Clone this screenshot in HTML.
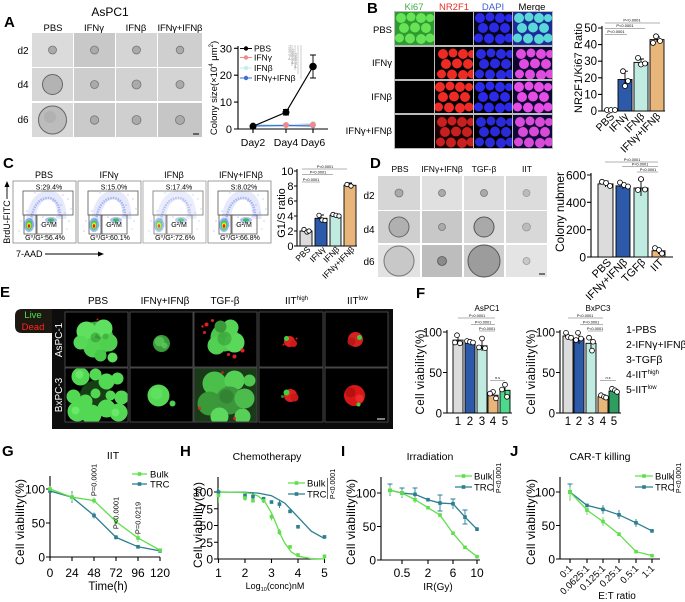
<!DOCTYPE html>
<html><head><meta charset="utf-8"><style>
html,body{margin:0;padding:0;background:#fff;}
svg{display:block}
text{font-family:"Liberation Sans",Arial,"DejaVu Sans",sans-serif;fill:#000}
.ax{stroke:#000;stroke-width:1.1;fill:none}
.sg{stroke:#999;stroke-width:0.7;fill:none}
.pt{fill:#fff;stroke:#000;stroke-width:0.8}
.bar{stroke:#000;stroke-width:0.9}
.eb{stroke:#000;stroke-width:0.9;fill:none}
.bk{stroke:#5fe04a;stroke-width:1.3;fill:none}
.tr{stroke:#2b7f91;stroke-width:1.3;fill:none}
.bkm{fill:#5fe04a}
.trm{fill:#2b7f91}
.ebk{stroke:#5fe04a;stroke-width:0.9;fill:none}
.etr{stroke:#2b7f91;stroke-width:0.9;fill:none}
</style></head><body>
<svg width="685" height="602" viewBox="0 0 685 602" xmlns="http://www.w3.org/2000/svg" xmlns:xlink="http://www.w3.org/1999/xlink">
<defs>
<g id="bl"><circle cx="6" cy="6" r="5"/><circle cx="16" cy="5" r="4.5"/><circle cx="26" cy="6" r="5"/><circle cx="35" cy="6" r="4"/><circle cx="9" cy="16" r="5"/><circle cx="20" cy="15.5" r="5"/><circle cx="31" cy="16" r="5"/><circle cx="4.5" cy="26" r="4.5"/><circle cx="15" cy="26.5" r="5"/><circle cx="26" cy="27" r="5"/><circle cx="35" cy="26" r="4.5"/></g>
<g id="flow">
<rect x="0" y="0" width="63" height="62" fill="#fff" stroke="#888" stroke-width="0.8"/>
<g fill="#8090f0" opacity="0.5">
<circle cx="40" cy="20" r="0.8"/><circle cx="48" cy="24" r="0.8"/><circle cx="55" cy="18" r="0.7"/><circle cx="58" cy="28" r="0.7"/><circle cx="52" cy="32" r="0.7"/><circle cx="45" cy="30" r="0.8"/><circle cx="30" cy="36" r="0.8"/><circle cx="8" cy="40" r="0.7"/><circle cx="6" cy="50" r="0.7"/><circle cx="56" cy="40" r="0.7"/><circle cx="60" cy="22" r="0.6"/><circle cx="14" cy="30" r="0.7"/><circle cx="22" cy="12" r="0.7"/><circle cx="34" cy="10" r="0.7"/><circle cx="50" cy="14" r="0.7"/><circle cx="28" cy="44" r="0.7"/><circle cx="44" cy="36" r="0.7"/><circle cx="54" cy="48" r="0.6"/>
</g>
<path d="M18,46 C17,28 24,14 36,14 C46,14 49,26 49,38" stroke="#9aa8f4" stroke-width="9" fill="none" opacity="0.25"/>
<path d="M18,44 C18,28 25,17 35,17 C44,17 47,27 47,36" stroke="#4a64e0" stroke-width="2.5" fill="none" opacity="0.4" stroke-dasharray="1.5 1"/>
<ellipse cx="38" cy="39" rx="6" ry="3" fill="#5a70e0" opacity="0.45"/>
<ellipse cx="38" cy="39" rx="3.2" ry="1.6" fill="#30c060"/>
<ellipse cx="16" cy="44" rx="5" ry="7" fill="#4a78e8" opacity="0.55"/>
<ellipse cx="16" cy="44" rx="3.3" ry="4.8" fill="#30d060"/>
<ellipse cx="16" cy="44.5" rx="2.2" ry="3.1" fill="#f0e020"/>
<ellipse cx="16" cy="45" rx="1.2" ry="1.7" fill="#e02020"/>
<rect x="10" y="10" width="50" height="24" fill="none" stroke="#555" stroke-width="0.8"/>
<rect x="11" y="34" width="12" height="19" fill="none" stroke="#555" stroke-width="0.8"/>
<rect x="24" y="34" width="25" height="19" fill="none" stroke="#555" stroke-width="0.8"/>
</g>
</defs>
<rect width="685" height="602" fill="#fff"/>

<!-- ================= PANEL A ================= -->
<text x="4" y="27" font-size="15" font-weight="bold">A</text>
<text x="110" y="16" font-size="12" text-anchor="middle">AsPC1</text>
<g font-size="9.5" text-anchor="middle">
<text x="53" y="31">PBS</text><text x="94" y="31">IFNγ</text><text x="136" y="31">IFNβ</text><text x="180" y="31" textLength="45">IFNγ+IFNβ</text>
</g>
<g font-size="10" text-anchor="middle"><text x="23" y="54">d2</text><text x="23" y="88">d4</text><text x="23" y="123">d6</text></g>
<g>
<rect x="32" y="33" width="41" height="34" fill="#dbdbdb"/><rect x="74" y="33" width="41" height="34" fill="#c8c8c8"/><rect x="116" y="33" width="41" height="34" fill="#d5d5d5"/><rect x="158" y="33" width="44" height="34" fill="#cfcfcf"/>
<rect x="32" y="68" width="41" height="33" fill="#d6d6d6"/><rect x="74" y="68" width="41" height="33" fill="#cdcdcd"/><rect x="116" y="68" width="41" height="33" fill="#d2d2d2"/><rect x="158" y="68" width="44" height="33" fill="#d4d4d4"/>
<rect x="32" y="103" width="41" height="34" fill="#d8d8d8"/><rect x="74" y="103" width="41" height="34" fill="#cacaca"/><rect x="116" y="103" width="41" height="34" fill="#cfcfcf"/><rect x="158" y="103" width="44" height="34" fill="#c6c6c6"/>
<g fill="#aaa" stroke="#777" stroke-width="0.8">
<circle cx="52.5" cy="50" r="4"/><circle cx="94.5" cy="50" r="4"/><circle cx="136.5" cy="50" r="4"/><circle cx="180" cy="50" r="3.8"/>
<circle cx="94.5" cy="84.5" r="4"/><circle cx="136.5" cy="84.5" r="4.5"/><circle cx="180" cy="84.5" r="4"/>
<circle cx="94.5" cy="120" r="4.2"/><circle cx="136.5" cy="120" r="4.5"/><circle cx="180" cy="120" r="4.5"/>
</g>
<circle cx="52.5" cy="84.5" r="10" fill="#b3b3b3" stroke="#666" stroke-width="1"/>
<circle cx="52.5" cy="120" r="14" fill="#bcbcbc" stroke="#666" stroke-width="1"/>
<circle cx="50" cy="117" r="6" fill="#aaa" opacity="0.6"/>
<line x1="193" y1="134" x2="199" y2="134" stroke="#000" stroke-width="1"/>
</g>
<!-- A line chart -->
<path class="ax" d="M238,46 V129 H328"/>
<path class="ax" d="M234,48.3H238M234,75.2H238M234,102.1H238M234,129H238M253,129V133M286,129V133M313,129V133"/>
<g font-size="11" text-anchor="end"><text x="232" y="52.3">30</text><text x="232" y="79.2">20</text><text x="232" y="106.1">10</text><text x="232" y="133">0</text></g>
<g font-size="10.5" text-anchor="middle"><text x="253" y="146">Day2</text><text x="286" y="146">Day4</text><text x="313" y="146">Day6</text></g>
<text transform="translate(217,88) rotate(-90)" font-size="9.5" text-anchor="middle">Colony size(×10<tspan font-size="6" dy="-4">4</tspan><tspan dy="4"> μm</tspan><tspan font-size="6" dy="-4">2</tspan><tspan dy="4">)</tspan></text>
<g stroke="#aaa" stroke-width="0.6"><line x1="292" y1="45" x2="292" y2="66"/><line x1="295" y1="45" x2="295" y2="70"/><line x1="298" y1="45" x2="298" y2="74"/><line x1="301" y1="45" x2="301" y2="79"/></g>
<g font-size="3.5"><text transform="translate(291,60) rotate(-90)" style="fill:#888">P&lt;0.0001</text><text transform="translate(294,64) rotate(-90)" style="fill:#888">P&lt;0.0001</text><text transform="translate(297,68) rotate(-90)" style="fill:#888">P&lt;0.0001</text></g>
<polyline points="253,125.5 286,125 313,124.5" stroke="#f08a8a" stroke-width="1.2" fill="none"/>
<polyline points="253,124.5 286,125 313,123.5" stroke="#bff0ee" stroke-width="1.2" fill="none"/>
<polyline points="253,126 286,125.5 313,126" stroke="#3a6fd8" stroke-width="1.2" fill="none"/>
<circle cx="253" cy="124.5" r="2.5" fill="#bff0ee"/><circle cx="313" cy="123.5" r="2.5" fill="#bff0ee"/>
<circle cx="253" cy="126" r="2.3" fill="#3a6fd8"/><circle cx="313" cy="126" r="2.3" fill="#3a6fd8"/>
<circle cx="286" cy="125" r="3" fill="#f08a8a"/><circle cx="313" cy="124.8" r="3" fill="#f08a8a"/>
<polyline points="253,126.3 286,112.3 313,66.5" stroke="#000" stroke-width="1.2" fill="none"/>
<path class="eb" d="M286,109.5V115M283,109.5H289M283,115H289M313,55V78M310,55H316M310,78H316"/>
<circle cx="253" cy="126.3" r="3.5" fill="#000"/><circle cx="286" cy="112.3" r="3.5" fill="#000"/><circle cx="313" cy="66.5" r="3.8" fill="#000"/>
<g font-size="8.5">
<line x1="240" y1="48.5" x2="252" y2="48.5" stroke="#000" stroke-width="1"/><circle cx="246" cy="48.5" r="2.2" fill="#000"/><text x="254" y="51.5">PBS</text>
<line x1="240" y1="57.5" x2="252" y2="57.5" stroke="#f08a8a" stroke-width="1"/><circle cx="246" cy="57.5" r="2.2" fill="#f08a8a"/><text x="254" y="60.5">IFNγ</text>
<line x1="240" y1="68" x2="252" y2="68" stroke="#bff0ee" stroke-width="1"/><circle cx="246" cy="68" r="2.2" fill="#bff0ee"/><text x="254" y="71">IFNβ</text>
<line x1="240" y1="78" x2="252" y2="78" stroke="#3a6fd8" stroke-width="1"/><circle cx="246" cy="78" r="2.2" fill="#3a6fd8"/><text x="254" y="81">IFNγ+IFNβ</text>
</g>

<!-- ================= PANEL B ================= -->
<text x="367" y="13" font-size="15" font-weight="bold">B</text>
<g font-size="9.5" text-anchor="middle">
<text x="414" y="10" style="fill:#3cb043">Ki67</text><text x="454" y="10" style="fill:#e8302a">NR2F1</text><text x="493" y="10" style="fill:#3f5fd0">DAPI</text><text x="532" y="10">Merge</text>
</g>
<g font-size="9.5" text-anchor="end">
<text x="392" y="33">PBS</text><text x="392" y="66">IFNγ</text><text x="392" y="100">IFNβ</text><text x="392" y="134">IFNγ+IFNβ</text>
</g>
<rect x="394" y="11" width="159" height="138" fill="#bbb"/>
<svg x="395" y="12" width="39" height="33"><rect width="39" height="33" fill="#2f9a2f"/><use xlink:href="#bl" fill="#66e356"/></svg>
<svg x="435" y="12" width="38" height="33"><rect width="38" height="33" fill="#000"/></svg>
<svg x="474" y="12" width="38" height="33"><rect width="38" height="33" fill="#06061e"/><use xlink:href="#bl" fill="#2a2ae6"/></svg>
<svg x="513" y="12" width="39" height="33"><rect width="39" height="33" fill="#1e2a9a"/><use xlink:href="#bl" fill="#5ad8d8"/></svg>
<svg x="395" y="47" width="39" height="32"><rect width="39" height="32" fill="#000"/></svg>
<svg x="435" y="47" width="38" height="32"><rect width="38" height="32" fill="#000"/><use xlink:href="#bl" x="2" y="1" fill="#ee2a24"/></svg>
<svg x="474" y="47" width="38" height="32"><rect width="38" height="32" fill="#000"/><use xlink:href="#bl" x="1" y="1" fill="#2a2ae0"/></svg>
<svg x="513" y="47" width="39" height="32"><rect width="39" height="32" fill="#0c0630"/><use xlink:href="#bl" x="2" y="1" fill="#e04ce0"/></svg>
<svg x="395" y="81" width="39" height="32"><rect width="39" height="32" fill="#000"/></svg>
<svg x="435" y="81" width="38" height="32"><rect width="38" height="32" fill="#000"/><use xlink:href="#bl" x="-1" y="0" fill="#f02a24"/></svg>
<svg x="474" y="81" width="38" height="32"><rect width="38" height="32" fill="#000"/><use xlink:href="#bl" x="0" y="0" fill="#2a2ae8"/></svg>
<svg x="513" y="81" width="39" height="32"><rect width="39" height="32" fill="#0c0630"/><use xlink:href="#bl" x="0" y="0" fill="#e64ce6"/></svg>
<svg x="395" y="115" width="39" height="33"><rect width="39" height="33" fill="#000"/></svg>
<svg x="435" y="115" width="38" height="33"><rect width="38" height="33" fill="#1a0000"/><use xlink:href="#bl" x="1" y="1" fill="#c82020"/></svg>
<svg x="474" y="115" width="38" height="33"><rect width="38" height="33" fill="#000"/><use xlink:href="#bl" x="1" y="1" fill="#2a2ad8"/></svg>
<svg x="513" y="115" width="39" height="33"><rect width="39" height="33" fill="#100838"/><use xlink:href="#bl" x="1" y="1" fill="#d84ad8"/></svg>
<!-- B bar chart -->
<path class="ax" d="M602,26 V111 H665"/>
<path class="ax" d="M598,28H602M598,44.6H602M598,61.2H602M598,77.8H602M598,94.4H602M598,111H602"/>
<g font-size="11.5" text-anchor="end"><text x="597" y="32">50</text><text x="597" y="48.6">40</text><text x="597" y="65.2">30</text><text x="597" y="81.8">20</text><text x="597" y="98.4">10</text><text x="597" y="115">0</text></g>
<text transform="translate(582,68) rotate(-90)" font-size="11" text-anchor="middle" textLength="90">NR2F1/Ki67 Ratio</text>
<rect class="bar" x="618" y="79.5" width="14" height="31.5" fill="#2c5aa8"/>
<rect class="bar" x="634" y="62.4" width="14" height="48.6" fill="#c0ebe0"/>
<rect class="bar" x="650" y="39.6" width="14" height="71.4" fill="#e8b57a"/>
<path class="eb" d="M625,71.2V87.8M622,71.2H628M641,59V66M638,59H644M657,37V42M654,37H660"/>
<g class="pt"><circle cx="607" cy="110" r="2.5"/><circle cx="611" cy="110" r="2.5"/><circle cx="615" cy="110" r="2.5"/>
<circle cx="623" cy="71.2" r="2.5"/><circle cx="625" cy="86" r="2.5"/><circle cx="628" cy="81" r="2.5"/>
<circle cx="638" cy="57.9" r="2.5"/><circle cx="641" cy="64.5" r="2.5"/><circle cx="645" cy="63.5" r="2.5"/>
<circle cx="656" cy="36.3" r="2.5"/><circle cx="653" cy="42.9" r="2.5"/><circle cx="660" cy="41" r="2.5"/></g>
<path class="sg" d="M605,23H660M605,28.5H645M605,34.5H627"/>
<g font-size="4" text-anchor="middle"><text x="632" y="21.5">P&lt;0.0001</text><text x="625" y="27">P&lt;0.0001</text><text x="616" y="33">P&lt;0.0001</text></g>
<g font-size="10.5" text-anchor="end">
<text transform="translate(615,117) rotate(-45)">PBS</text>
<text transform="translate(629,117) rotate(-45)">IFNγ</text>
<text transform="translate(645,117) rotate(-45)">IFNβ</text>
<text transform="translate(661,117) rotate(-45)">IFNγ+IFNβ</text>
</g>

<!-- ================= PANEL C ================= -->
<text x="3" y="168" font-size="15" font-weight="bold">C</text>
<g font-size="9" text-anchor="middle">
<text x="44" y="178">PBS</text><text x="109" y="178">IFNγ</text><text x="174" y="178">IFNβ</text><text x="241" y="178">IFNγ+IFNβ</text>
</g>
<g transform="translate(13,181)"><use xlink:href="#flow"/><g font-size="7" text-anchor="middle"><text x="36" y="8.5">S:29.4%</text><text x="36" y="46">G²/M</text><text x="32" y="59">G⁰/G¹:56.4%</text></g></g>
<g transform="translate(78,181)"><use xlink:href="#flow"/><g font-size="7" text-anchor="middle"><text x="36" y="8.5">S:15.0%</text><text x="36" y="46">G²/M</text><text x="32" y="59">G⁰/G¹:60.1%</text></g></g>
<g transform="translate(143,181)"><use xlink:href="#flow" opacity="0.8"/><g font-size="7" text-anchor="middle"><text x="36" y="8.5">S:17.4%</text><text x="36" y="46">G²/M</text><text x="32" y="59">G⁰/G¹:72.6%</text></g></g>
<g transform="translate(208,181)"><use xlink:href="#flow"/><g font-size="7" text-anchor="middle"><text x="36" y="8.5">S:8.02%</text><text x="36" y="46">G²/M</text><text x="32" y="59">G⁰/G¹:66.8%</text></g></g>
<text transform="translate(10,222) rotate(-90)" font-size="9" text-anchor="middle">BrdU-FITC</text>
<path d="M7,199V185" stroke="#000" stroke-width="0.9"/><path d="M4.5,187L7,181L9.5,187Z" fill="#000"/>
<text x="16" y="257" font-size="9">7-AAD</text>
<path d="M45,254H99" stroke="#000" stroke-width="0.9"/><path d="M98,251.5L104,254L98,256.5Z" fill="#000"/>
<!-- C bar chart -->
<path class="ax" d="M297,169 V246 H357"/>
<path class="ax" d="M294,171H297M294,186H297M294,201H297M294,216H297M294,231H297M294,246H297"/>
<g font-size="11" text-anchor="end"><text x="293.5" y="175">10</text><text x="293.5" y="190">8</text><text x="293.5" y="205">6</text><text x="293.5" y="220">4</text><text x="293.5" y="235">2</text><text x="293.5" y="250">0</text></g>
<text transform="translate(285,213) rotate(-90)" font-size="11" text-anchor="middle">G1/S ratio</text>
<rect class="bar" x="300" y="231" width="12" height="15" fill="#dcdcdc"/>
<rect class="bar" x="315" y="218.3" width="12" height="27.7" fill="#2c5aa8"/>
<rect class="bar" x="330" y="215.3" width="11" height="30.7" fill="#c0ebe0"/>
<rect class="bar" x="344" y="185.3" width="12" height="60.7" fill="#e8b57a"/>
<path class="eb" d="M321,215V221M318,215H324M349.5,183V188M347,183H352"/>
<g class="pt"><circle cx="304" cy="229.5" r="2.2"/><circle cx="307" cy="232" r="2.2"/><circle cx="309" cy="231" r="2.2"/>
<circle cx="319" cy="215.3" r="2.2"/><circle cx="322" cy="220" r="2.2"/><circle cx="325" cy="220.5" r="2.2"/>
<circle cx="333" cy="214.5" r="2.2"/><circle cx="336" cy="215.3" r="2.2"/><circle cx="339" cy="216" r="2.2"/>
<circle cx="347" cy="184.5" r="2.2"/><circle cx="351" cy="186" r="2.2"/></g>
<path class="sg" d="M302,169H347M302,174.5H333M302,182H320"/>
<g font-size="3.8" text-anchor="middle"><text x="325" y="168">P&lt;0.0001</text><text x="318" y="173.5">P&lt;0.0001</text><text x="311" y="181">P&lt;0.0001</text></g>
<g font-size="8.5" text-anchor="end">
<text transform="translate(311,250) rotate(-45)">PBS</text>
<text transform="translate(326,250) rotate(-45)">IFNγ</text>
<text transform="translate(340,250) rotate(-45)">IFNβ</text>
<text transform="translate(355,250) rotate(-45)">IFNγ+IFNβ</text>
</g>

<!-- ================= PANEL D ================= -->
<text x="370" y="168" font-size="15" font-weight="bold">D</text>
<g font-size="8.5" text-anchor="middle">
<text x="400" y="172">PBS</text><text x="442" y="172">IFNγ+IFNβ</text><text x="484" y="172">TGF-β</text><text x="527" y="172">IIT</text>
</g>
<g font-size="10" text-anchor="middle"><text x="369" y="199">d2</text><text x="369" y="233">d4</text><text x="369" y="265">d6</text></g>
<rect x="378" y="176" width="42" height="34" fill="#d6d6d6"/><rect x="422" y="176" width="40" height="34" fill="#e0e0e0"/><rect x="464" y="176" width="40" height="34" fill="#dedede"/><rect x="506" y="176" width="41" height="34" fill="#dcdcdc"/>
<rect x="378" y="211" width="42" height="32" fill="#cfcfcf"/><rect x="422" y="211" width="40" height="32" fill="#c8c8c8"/><rect x="464" y="211" width="40" height="32" fill="#d8d8d8"/><rect x="506" y="211" width="41" height="32" fill="#d8d8d8"/>
<rect x="378" y="245" width="42" height="32" fill="#e2e2e2"/><rect x="422" y="245" width="40" height="32" fill="#bdbdbd"/><rect x="464" y="245" width="40" height="32" fill="#cfcfcf"/><rect x="506" y="245" width="41" height="32" fill="#e4e4e4"/>
<g fill="#aaa" stroke="#777" stroke-width="0.8">
<circle cx="399" cy="193" r="4"/><circle cx="442" cy="193" r="3.5"/><circle cx="484" cy="193" r="3.5"/><circle cx="526.5" cy="193" r="3.5" fill="#bbb" stroke="#999"/>
<circle cx="442" cy="227" r="3.5"/><circle cx="526.5" cy="227" r="4" fill="#bbb" stroke="#999"/>
<circle cx="442" cy="261" r="4.5" fill="#8a8a8a" stroke="#555"/><circle cx="526.5" cy="261" r="3.5" fill="#c8c8c8" stroke="#999"/>
</g>
<circle cx="399" cy="227" r="10" fill="#b0b0b0" stroke="#666" stroke-width="1"/>
<circle cx="484" cy="227" r="10" fill="#a9a9a9" stroke="#555" stroke-width="1"/>
<circle cx="399" cy="261" r="15" fill="#c8c8c8" stroke="#777" stroke-width="1"/>
<circle cx="484" cy="261" r="16" fill="#9c9c9c" stroke="#555" stroke-width="1"/>
<line x1="539" y1="274" x2="545" y2="274" stroke="#000" stroke-width="1"/>
<!-- D bar chart -->
<path class="ax" d="M591,173 V257 H673"/>
<path class="ax" d="M587,175H591M587,202.3H591M587,229.7H591M587,257H591"/>
<g font-size="12" text-anchor="end"><text x="586" y="179.5">600</text><text x="586" y="206.8">400</text><text x="586" y="234.2">200</text><text x="586" y="261.5">0</text></g>
<text transform="translate(564,212) rotate(-90)" font-size="12" text-anchor="middle" textLength="80">Colony nubmer</text>
<rect class="bar" x="598" y="183.9" width="15" height="73.1" fill="#dcdcdc"/>
<rect class="bar" x="616" y="185.9" width="14" height="71.1" fill="#2c5aa8"/>
<rect class="bar" x="634" y="188" width="14" height="69" fill="#c0ebe0"/>
<rect class="bar" x="652" y="250.8" width="13" height="6.2" fill="#e8b57a"/>
<path class="eb" d="M605.5,181V187M602.5,181H608.5M623,183V189M620,183H626M641,180V196M638,180H644M658.5,248V254"/>
<g class="pt"><circle cx="602" cy="181.8" r="2.5"/><circle cx="606" cy="183" r="2.5"/><circle cx="610" cy="186" r="2.5"/>
<circle cx="620" cy="182.5" r="2.5"/><circle cx="624" cy="185" r="2.5"/><circle cx="628" cy="186.5" r="2.5"/>
<circle cx="641" cy="179.1" r="2.5"/><circle cx="638" cy="190" r="2.5"/><circle cx="645" cy="189.5" r="2.5"/>
<circle cx="655" cy="248.1" r="2.5"/><circle cx="659" cy="250" r="2.5"/><circle cx="662" cy="253.5" r="2.5"/></g>
<path class="sg" d="M605,162H658M622,166.5H658M637,172H658"/>
<g font-size="3.8" text-anchor="middle"><text x="632" y="161">P&lt;0.0001</text><text x="640" y="165.5">P&lt;0.0001</text><text x="648" y="171">P&lt;0.0001</text></g>
<g font-size="11" text-anchor="end">
<text transform="translate(612,263) rotate(-45)">PBS</text>
<text transform="translate(628,263) rotate(-45)">IFNγ+IFNβ</text>
<text transform="translate(646,263) rotate(-45)">TGFβ</text>
<text transform="translate(664,263) rotate(-45)">IIT</text>
</g>

<!-- ================= PANEL E ================= -->
<text x="0" y="297" font-size="15" font-weight="bold">E</text>
<g font-size="10" text-anchor="middle">
<text x="98" y="304">PBS</text><text x="165" y="304">IFNγ+IFNβ</text><text x="225" y="304">TGF-β</text>
</g>
<text x="285" y="304" font-size="10">IIT<tspan font-size="6" dy="-4">high</tspan></text>
<text x="347" y="304" font-size="10">IIT<tspan font-size="6" dy="-4">low</tspan></text>
<rect x="52" y="309" width="341" height="120" fill="#0d0d0d"/>
<path d="M52,309 H22 Q15,309 15,316 V326 Q15,333 22,333 H52 Z" fill="#1e1812"/>
<text x="33" y="318" font-size="9.5" text-anchor="middle" style="fill:#4ce04c">Live</text>
<text x="33" y="330" font-size="9.5" text-anchor="middle" style="fill:#ff2a1a">Dead</text>
<text transform="translate(62,340) rotate(-90)" font-size="10" text-anchor="middle" style="fill:#fff">AsPC-1</text>
<text transform="translate(62,395) rotate(-90)" font-size="10" text-anchor="middle" style="fill:#fff">BxPC-3</text>
<g stroke="#555" stroke-width="0.8" fill="#000">
<rect x="65" y="312" width="63" height="55"/><rect x="130" y="312" width="63" height="55"/><rect x="194" y="312" width="63" height="55"/><rect x="259" y="312" width="64" height="55"/><rect x="325" y="312" width="63" height="55"/>
<rect x="65" y="368" width="63" height="54"/><rect x="130" y="368" width="63" height="54"/><rect x="194" y="368" width="63" height="54"/><rect x="259" y="368" width="64" height="54"/><rect x="325" y="368" width="63" height="54"/>
</g>
<svg x="65.5" y="312.5" width="62" height="54">
<circle cx="31" cy="26" r="17" fill="#3aae3a"/><circle cx="21" cy="19" r="10" fill="#5fe05f"/><circle cx="38" cy="16" r="9" fill="#60e060"/><circle cx="28" cy="35" r="10" fill="#52d452"/><circle cx="43" cy="30" r="9" fill="#4fd04f"/><circle cx="15" cy="30" r="7" fill="#58d858"/><circle cx="47" cy="45" r="5" fill="#5ee05e"/><circle cx="35" cy="43" r="6" fill="#48c848"/><circle cx="30" cy="25" r="5" fill="#2e8a2e" opacity="0.5"/><circle cx="40" cy="24" r="3" fill="#2e8a2e" opacity="0.4"/><circle cx="32" cy="7" r="1" fill="#e02020"/>
</svg>
<svg x="130.5" y="312.5" width="62" height="54">
<circle cx="31" cy="31" r="8.5" fill="#3a9a3a"/><circle cx="29" cy="29" r="5" fill="#58c858" opacity="0.8"/><circle cx="34" cy="33" r="3" fill="#60d060" opacity="0.7"/>
</svg>
<svg x="194.5" y="312.5" width="62" height="54">
<circle cx="30" cy="25" r="14" fill="#4cc84c"/><circle cx="22" cy="33" r="9" fill="#52d052"/><circle cx="40" cy="30" r="10" fill="#5ad85a"/><circle cx="36" cy="15" r="8" fill="#56d456"/><circle cx="26" cy="14" r="6" fill="#3a9a3a"/><circle cx="30" cy="26" r="7" fill="#2f8f2f" opacity="0.5"/>
<g fill="#e02020"><circle cx="12" cy="12" r="2"/><circle cx="18" cy="8" r="1.5"/><circle cx="48" cy="38" r="2"/><circle cx="34" cy="42" r="1.5"/><circle cx="40" cy="44" r="2"/><circle cx="10" cy="20" r="1.5"/><circle cx="8" cy="14" r="1.2"/></g>
</svg>
<svg x="259.5" y="312.5" width="63" height="54">
<circle cx="30" cy="29" r="5.5" fill="#e02020"/><circle cx="34" cy="31" r="3.5" fill="#d01818"/><circle cx="27" cy="26" r="2.5" fill="#40d040"/><circle cx="37" cy="26" r="1" fill="#e02020"/><circle cx="24" cy="32" r="1" fill="#e02020"/>
</svg>
<svg x="325.5" y="312.5" width="62" height="54">
<circle cx="30" cy="27" r="7.5" fill="#d82020"/><circle cx="26" cy="29" r="4" fill="#b81818"/><circle cx="34" cy="25" r="2.5" fill="#40d040"/>
</svg>
<svg x="65.5" y="368.5" width="62" height="53">
<circle cx="30" cy="28" r="16" fill="#1f5a1f" opacity="0.7"/>
<g fill="#52d852"><circle cx="15" cy="8" r="9"/><circle cx="30" cy="6" r="6"/><circle cx="41" cy="13" r="8"/><circle cx="52" cy="10" r="6"/><circle cx="8" cy="28" r="7"/><circle cx="20" cy="33" r="7"/><circle cx="12" cy="43" r="10"/><circle cx="26" cy="46" r="10"/><circle cx="41" cy="40" r="9"/><circle cx="53" cy="44" r="9"/><circle cx="56" cy="29" r="7"/><circle cx="45" cy="27" r="5"/><circle cx="30" cy="25" r="5"/></g>
<g fill="#6ae86a"><circle cx="14" cy="6" r="4"/><circle cx="10" cy="42" r="4"/><circle cx="50" cy="44" r="4"/></g>
</svg>
<svg x="130.5" y="368.5" width="62" height="53">
<circle cx="28" cy="27" r="11" fill="#56d856"/><circle cx="42" cy="35" r="3" fill="#50d050"/><circle cx="26" cy="25" r="6" fill="#60e060"/>
</svg>
<svg x="194.5" y="368.5" width="62" height="53">
<rect width="62" height="53" fill="#1a3a1a"/>
<circle cx="20" cy="15" r="12" fill="#4ac04a"/><circle cx="40" cy="12" r="10" fill="#55d055"/><circle cx="15" cy="35" r="12" fill="#3a9a3a"/><circle cx="35" cy="32" r="14" fill="#3c963c"/><circle cx="50" cy="30" r="10" fill="#4cbc4c"/><circle cx="25" cy="48" r="9" fill="#5cd85c"/><circle cx="48" cy="48" r="8" fill="#58d058"/><circle cx="55" cy="12" r="6" fill="#50c850"/><circle cx="32" cy="28" r="7" fill="#2e7a2e" opacity="0.7"/>
<g fill="#e02020"><circle cx="5" cy="40" r="1.5"/><circle cx="40" cy="50" r="1.5"/><circle cx="28" cy="4" r="1.2"/></g>
</svg>
<svg x="259.5" y="368.5" width="63" height="53">
<circle cx="31" cy="27" r="6.5" fill="#e02020"/><circle cx="35" cy="29" r="4" fill="#c81818"/><circle cx="27" cy="24" r="3" fill="#40d040"/><circle cx="23" cy="28" r="1.5" fill="#2a8a2a"/>
</svg>
<svg x="325.5" y="368.5" width="62" height="53">
<circle cx="29" cy="27" r="10.5" fill="#d81818"/><circle cx="25" cy="24" r="5" fill="#b81010"/><circle cx="34" cy="30" r="4" fill="#ee2a2a"/><circle cx="33" cy="36" r="2" fill="#40d040"/>
</svg>
<line x1="377" y1="419" x2="385" y2="419" stroke="#fff" stroke-width="1"/>

<!-- ================= PANEL F ================= -->
<text x="416" y="298" font-size="15" font-weight="bold">F</text>
<text x="487" y="311" font-size="8" text-anchor="middle">AsPC1</text>
<text x="598" y="311" font-size="8" text-anchor="middle">BxPC3</text>
<path class="ax" d="M447,330 V413 H512"/>
<path class="ax" d="M443,332H447M443,372.5H447M443,413H447"/>
<g font-size="11.5" text-anchor="end"><text x="442" y="336.5">100</text><text x="442" y="377">50</text><text x="442" y="417.5">0</text></g>
<text transform="translate(424,372) rotate(-90)" font-size="11.5" text-anchor="middle" textLength="85">Cell viability(%)</text>
<rect class="bar" x="453" y="340.1" width="10" height="72.9" fill="#dcdcdc"/>
<rect class="bar" x="465" y="341.7" width="10" height="71.3" fill="#2c5aa8"/>
<rect class="bar" x="477" y="345.8" width="10" height="67.2" fill="#c0ebe0"/>
<rect class="bar" x="488" y="395.2" width="10" height="17.8" fill="#e8b57a"/>
<rect class="bar" x="500" y="390.3" width="10" height="22.7" fill="#4fd98a"/>
<path class="eb" d="M458,336V344M482,338V351M505,384V396"/>
<g class="pt"><circle cx="457" cy="335.2" r="2.4"/><circle cx="455" cy="342.5" r="2.4"/><circle cx="460" cy="343.3" r="2.4"/>
<circle cx="467" cy="341" r="2.4"/><circle cx="470" cy="341.7" r="2.4"/><circle cx="473" cy="342.5" r="2.4"/>
<circle cx="482" cy="338.5" r="2.4"/><circle cx="479" cy="347.4" r="2.4"/><circle cx="485" cy="348.2" r="2.4"/>
<circle cx="493" cy="391.9" r="2.4"/><circle cx="490" cy="393.6" r="2.4"/><circle cx="496" cy="398.4" r="2.4"/>
<circle cx="505" cy="384.7" r="2.4"/><circle cx="502" cy="389.5" r="2.4"/><circle cx="507" cy="396.8" r="2.4"/></g>
<g font-size="11.5" text-anchor="middle"><text x="458" y="425">1</text><text x="470" y="425">2</text><text x="482" y="425">3</text><text x="493" y="425">4</text><text x="505" y="425">5</text></g>
<path class="sg" d="M458,318H495M471,324.5H495M479,331H495M490,380.5H505"/>
<g font-size="3.8" text-anchor="middle"><text x="477" y="317">P&lt;0.0001</text><text x="483" y="323.5">P&lt;0.0001</text><text x="487" y="330">P&lt;0.0001</text><text x="497.5" y="379" font-style="italic">n.s</text></g>
<path class="ax" d="M560,330 V413 H621"/>
<path class="ax" d="M556,332H560M556,372.5H560M556,413H560"/>
<g font-size="11.5" text-anchor="end"><text x="555" y="336.5">100</text><text x="555" y="377">50</text><text x="555" y="417.5">0</text></g>
<text transform="translate(535,372) rotate(-90)" font-size="11.5" text-anchor="middle" textLength="85">Cell viability(%)</text>
<rect class="bar" x="563" y="336" width="10" height="77" fill="#dcdcdc"/>
<rect class="bar" x="574" y="338.5" width="10" height="74.5" fill="#2c5aa8"/>
<rect class="bar" x="586" y="343.3" width="10" height="69.7" fill="#c0ebe0"/>
<rect class="bar" x="598" y="396.8" width="10" height="16.2" fill="#e8b57a"/>
<rect class="bar" x="609" y="391.1" width="10" height="21.9" fill="#2e9e60"/>
<path class="eb" d="M579,333V344M591,336V351"/>
<g class="pt"><circle cx="566" cy="332.8" r="2.4"/><circle cx="568" cy="337" r="2.4"/><circle cx="571" cy="337.7" r="2.4"/>
<circle cx="578" cy="332.8" r="2.4"/><circle cx="581" cy="338.5" r="2.4"/><circle cx="576" cy="340" r="2.4"/>
<circle cx="589" cy="337.7" r="2.4"/><circle cx="593" cy="341.7" r="2.4"/><circle cx="592" cy="350.6" r="2.4"/>
<circle cx="601" cy="395.2" r="2.4"/><circle cx="604" cy="396.8" r="2.4"/><circle cx="606" cy="397.6" r="2.4"/>
<circle cx="612" cy="388.7" r="2.4"/><circle cx="615" cy="390.3" r="2.4"/><circle cx="617" cy="391.9" r="2.4"/></g>
<g font-size="11.5" text-anchor="middle"><text x="568" y="425">1</text><text x="579" y="425">2</text><text x="591" y="425">3</text><text x="603" y="425">4</text><text x="614" y="425">5</text></g>
<path class="sg" d="M568,318H603M580,324.5H603M588,331H603M600,380.5H616"/>
<g font-size="3.8" text-anchor="middle"><text x="585" y="317">P&lt;0.0001</text><text x="591" y="323.5">P&lt;0.0001</text><text x="595" y="330">P&lt;0.0001</text><text x="608" y="379" font-style="italic">n.s</text></g>
<g font-size="10.5">
<text x="626" y="333">1-PBS</text>
<text x="626" y="348">2-IFNγ+IFNβ</text>
<text x="626" y="363">3-TGFβ</text>
<text x="626" y="378">4-IIT<tspan font-size="6" dy="-4">high</tspan></text>
<text x="626" y="393">5-IIT<tspan font-size="6" dy="-4">low</tspan></text>
</g>

<!-- ================= PANEL G ================= -->
<text x="2" y="456" font-size="15" font-weight="bold">G</text>
<text x="113" y="459" font-size="10.5" text-anchor="middle">IIT</text>
<path class="ax" d="M50,476 V557 H160"/>
<path class="ax" d="M46,489H50M46,523H50M46,557H50M50,557V561M72,557V561M94,557V561M116,557V561M138,557V561M160,557V561"/>
<g font-size="12" text-anchor="end"><text x="45" y="493.5">100</text><text x="45" y="527.5">50</text><text x="45" y="561.5">0</text></g>
<g font-size="12" text-anchor="middle"><text x="50" y="577">0</text><text x="72" y="577">24</text><text x="94" y="577">48</text><text x="116" y="577">72</text><text x="138" y="577">96</text><text x="160" y="577">120</text></g>
<text x="108" y="590" font-size="11.5" text-anchor="middle">Time(h)</text>
<text transform="translate(24,522) rotate(-90)" font-size="12" text-anchor="middle" textLength="86">Cell viability(%)</text>
<path class="etr" d="M72,491V503M94,512.5V518.5M116,535V539.5"/>
<path class="ebk" d="M50,486V492M72,493V501.5M94,497.5V503.5M116,518.5V524.5M138,534V542"/>
<polyline class="tr" points="50,491 72,497.2 94,515.5 116,537.3 138,546.8 160,550.9"/>
<polyline class="bk" points="50,489 72,497.2 94,500.6 116,521.6 138,538 160,550.2"/>
<g class="trm"><rect x="48.2" y="489.2" width="3.6" height="3.6"/><rect x="70.2" y="495.4" width="3.6" height="3.6"/><rect x="92.2" y="513.7" width="3.6" height="3.6"/><rect x="114.2" y="535.5" width="3.6" height="3.6"/><rect x="136.2" y="545" width="3.6" height="3.6"/><rect x="158.2" y="549.1" width="3.6" height="3.6"/></g>
<g class="bkm"><rect x="48.2" y="487.2" width="3.6" height="3.6"/><rect x="70.2" y="495.4" width="3.6" height="3.6"/><rect x="92.2" y="498.8" width="3.6" height="3.6"/><rect x="114.2" y="519.8" width="3.6" height="3.6"/><rect x="136.2" y="536.2" width="3.6" height="3.6"/><rect x="158.2" y="548.4" width="3.6" height="3.6"/></g>
<g font-size="7.5" text-anchor="middle">
<text transform="translate(96.5,480) rotate(-90)">P=0.0001</text>
<text transform="translate(118.5,513) rotate(-90)">P&lt;0.0001</text>
<text transform="translate(140.5,518) rotate(-90)">P=0.0219</text>
</g>
<g font-size="9.5">
<line x1="132" y1="474" x2="147" y2="474" class="bk"/><rect x="137.7" y="472.2" width="3.6" height="3.6" class="bkm"/><text x="150" y="477.5">Bulk</text>
<line x1="132" y1="484" x2="147" y2="484" class="tr"/><rect x="137.7" y="482.2" width="3.6" height="3.6" class="trm"/><text x="150" y="487.5">TRC</text>
</g>

<!-- ================= PANEL H ================= -->
<text x="180" y="456" font-size="15" font-weight="bold">H</text>
<text x="267" y="460" font-size="10.5" text-anchor="middle">Chemotherapy</text>
<path class="ax" d="M218,477 V559 H325"/>
<path class="ax" d="M214,492H218M214,508.75H218M214,525.5H218M214,542.25H218M214,559H218M218.5,559V563M245,559V563M271.5,559V563M298,559V563M324.5,559V563"/>
<g font-size="12" text-anchor="end"><text x="213" y="496.5">100</text><text x="213" y="513.25">75</text><text x="213" y="530">50</text><text x="213" y="546.75">25</text><text x="213" y="563.5">0</text></g>
<g font-size="12" text-anchor="middle"><text x="218.5" y="577">1</text><text x="245" y="577">2</text><text x="271.5" y="577">3</text><text x="298" y="577">4</text><text x="324.5" y="577">5</text></g>
<text x="275" y="589" font-size="9" text-anchor="middle">Log<tspan font-size="5.5" dy="2">10</tspan><tspan dy="-2">(conc)nM</tspan></text>
<text transform="translate(202,525) rotate(-90)" font-size="12" text-anchor="middle" textLength="86">Cell viability(%)</text>
<polyline class="tr" points="218.5,492 231.75,492.1 245,492.3 258.25,493.1 271.5,495.7 284.75,503.1 298,517.1 311.25,531.2 324.5,538.6"/>
<polyline class="bk" points="218.5,492 231.75,492.1 245,492.6 251.6,493.6 258.25,496.1 264.9,501.8 271.5,513 274.15,519 276.8,525.5 279.45,532 282.1,538 284.75,543.2 291.4,552 298,556.2 311.25,558.6 324.5,558.9"/>
<path class="ebk" d="M218.5,488V503M245,495V501M271.5,513V520.5M279.45,529V535M263.55,498V503"/>
<path class="etr" d="M218.5,489V495M252.95,493V500M279.45,500V508"/>
<g class="trm"><rect x="216.7" y="490.2" width="3.6" height="3.6"/><rect x="243.2" y="493.55" width="3.6" height="3.6"/><rect x="251.15" y="494.9" width="3.6" height="3.6"/><rect x="261.75" y="496.9" width="3.6" height="3.6"/><rect x="269.7" y="500.25" width="3.6" height="3.6"/><rect x="277.65" y="502.3" width="3.6" height="3.6"/><rect x="288.25" y="509.6" width="3.6" height="3.6"/><rect x="296.2" y="525" width="3.6" height="3.6"/><rect x="322.7" y="535.1" width="3.6" height="3.6"/></g>
<g class="bkm"><rect x="216.7" y="493.55" width="3.6" height="3.6"/><rect x="243.2" y="496.2" width="3.6" height="3.6"/><rect x="251.15" y="498.9" width="3.6" height="3.6"/><rect x="261.75" y="498.9" width="3.6" height="3.6"/><rect x="269.7" y="515" width="3.6" height="3.6"/><rect x="277.65" y="530.4" width="3.6" height="3.6"/><rect x="288.25" y="545.1" width="3.6" height="3.6"/><rect x="296.2" y="553.2" width="3.6" height="3.6"/><rect x="322.7" y="554.5" width="3.6" height="3.6"/></g>
<g font-size="9.5">
<line x1="288" y1="483" x2="305" y2="483" class="bk"/><rect x="294.7" y="481.2" width="3.6" height="3.6" class="bkm"/><text x="307" y="486.5">Bulk</text>
<line x1="288" y1="494" x2="305" y2="494" class="tr"/><rect x="294.7" y="492.2" width="3.6" height="3.6" class="trm"/><text x="307" y="497.5">TRC</text>
</g>
<line x1="327.5" y1="478" x2="327.5" y2="499" stroke="#000" stroke-width="0.6"/>
<text transform="translate(335,484) rotate(-90)" font-size="7" text-anchor="middle">P&lt;0.0001</text>

<!-- ================= PANEL I ================= -->
<text x="341" y="456" font-size="15" font-weight="bold">I</text>
<text x="430" y="460" font-size="10.5" text-anchor="middle">Irradiation</text>
<path class="ax" d="M381,477 V560 H480"/>
<path class="ax" d="M377,493H381M377,526.5H381M377,560H381M402,560V564M428,560V564M453,560V564M477,560V564"/>
<g font-size="12" text-anchor="end"><text x="376" y="497.5">100</text><text x="376" y="531">50</text><text x="376" y="564.5">0</text></g>
<g font-size="12" text-anchor="middle"><text x="402" y="577">0.5</text><text x="428" y="577">2</text><text x="453" y="577">6</text><text x="477" y="577">10</text></g>
<text x="438" y="590" font-size="10" text-anchor="middle">IR(Gy)</text>
<text transform="translate(355,522) rotate(-90)" font-size="12" text-anchor="middle" textLength="86">Cell viability(%)</text>
<path class="etr" d="M390,484V496M402,488V498M415,488V499M440,495V511M453,499V509M465,510V524M477,527V531"/>
<path class="etr" d="M387.5,484H392.5M399.5,488H404.5M412.5,488H417.5M437.5,495H442.5M437.5,511H442.5M450.5,499H455.5M462.5,510H467.5M462.5,524H467.5"/>
<path class="ebk" d="M390,486V495M402,490V497M415,497V503M440,513V517"/>
<polyline class="tr" points="390,490.3 402,493 415,494.3 428,499.7 440,503.05 453,503.7 465,517.1 477,529.2"/>
<polyline class="bk" points="390,490.3 402,493 415,499.7 428,507.7 440,515.1 453,533.2 465,547.3 477,556.65"/>
<g class="trm"><rect x="388.2" y="488.5" width="3.6" height="3.6"/><rect x="400.2" y="491.2" width="3.6" height="3.6"/><rect x="413.2" y="492.5" width="3.6" height="3.6"/><rect x="426.2" y="497.9" width="3.6" height="3.6"/><rect x="438.2" y="501.25" width="3.6" height="3.6"/><rect x="451.2" y="501.9" width="3.6" height="3.6"/><rect x="463.2" y="515.3" width="3.6" height="3.6"/><rect x="475.2" y="527.4" width="3.6" height="3.6"/></g>
<g class="bkm"><rect x="388.2" y="488.5" width="3.6" height="3.6"/><rect x="400.2" y="491.2" width="3.6" height="3.6"/><rect x="413.2" y="497.9" width="3.6" height="3.6"/><rect x="426.2" y="505.9" width="3.6" height="3.6"/><rect x="438.2" y="513.3" width="3.6" height="3.6"/><rect x="451.2" y="531.4" width="3.6" height="3.6"/><rect x="463.2" y="545.5" width="3.6" height="3.6"/><rect x="475.2" y="554.85" width="3.6" height="3.6"/></g>
<g font-size="9.5">
<line x1="455" y1="476" x2="472" y2="476" class="bk"/><rect x="461.7" y="474.2" width="3.6" height="3.6" class="bkm"/><text x="474" y="479.5">Bulk</text>
<line x1="455" y1="487" x2="472" y2="487" class="tr"/><rect x="461.7" y="485.2" width="3.6" height="3.6" class="trm"/><text x="474" y="490.5">TRC</text>
</g>
<line x1="493.5" y1="470" x2="493.5" y2="492" stroke="#000" stroke-width="0.6"/>
<text transform="translate(501,478) rotate(-90)" font-size="7" text-anchor="middle">P&lt;0.0001</text>

<!-- ================= PANEL J ================= -->
<text x="510" y="456" font-size="15" font-weight="bold">J</text>
<text x="600" y="460" font-size="10.5" text-anchor="middle">CAR-T killing</text>
<path class="ax" d="M560,477 V559 H660"/>
<path class="ax" d="M556,492H560M556,525.5H560M556,559H560M570,559V563M587,559V563M603,559V563M619,559V563M636,559V563M652,559V563"/>
<g font-size="12" text-anchor="end"><text x="555" y="496.5">100</text><text x="555" y="530">50</text><text x="555" y="563.5">0</text></g>
<g font-size="9.5" text-anchor="end">
<text transform="translate(573,569) rotate(-45)">0:1</text>
<text transform="translate(590,569) rotate(-45)">0.0625:1</text>
<text transform="translate(606,569) rotate(-45)">0.125:1</text>
<text transform="translate(622,569) rotate(-45)">0.25:1</text>
<text transform="translate(639,569) rotate(-45)">0.5:1</text>
<text transform="translate(655,569) rotate(-45)">1:1</text>
</g>
<text x="617" y="599" font-size="10" text-anchor="middle">E:T ratio</text>
<text transform="translate(535,522) rotate(-90)" font-size="12" text-anchor="middle" textLength="86">Cell viability(%)</text>
<path class="etr" d="M570,484V500M567.5,484H572.5M603,505V514M636,519V527M619,510V519"/>
<path class="ebk" d="M570,487V501M587,506V515M603,517V526M619,532V536"/>
<polyline class="tr" points="570,492 587,505.4 603,509.4 619,514.8 636,522.8 652,530.9"/>
<polyline class="bk" points="570,492 587,510.1 603,521.5 619,534.2 636,551.6 652,555.65"/>
<g class="trm"><rect x="568.2" y="490.2" width="3.6" height="3.6"/><rect x="585.2" y="503.6" width="3.6" height="3.6"/><rect x="601.2" y="507.6" width="3.6" height="3.6"/><rect x="617.2" y="513" width="3.6" height="3.6"/><rect x="634.2" y="521" width="3.6" height="3.6"/><rect x="650.2" y="529.1" width="3.6" height="3.6"/></g>
<g class="bkm"><rect x="568.2" y="490.2" width="3.6" height="3.6"/><rect x="585.2" y="508.3" width="3.6" height="3.6"/><rect x="601.2" y="519.7" width="3.6" height="3.6"/><rect x="617.2" y="532.4" width="3.6" height="3.6"/><rect x="634.2" y="549.8" width="3.6" height="3.6"/><rect x="650.2" y="553.85" width="3.6" height="3.6"/></g>
<g font-size="9.5">
<line x1="635" y1="476" x2="653" y2="476" class="bk"/><rect x="642.2" y="474.2" width="3.6" height="3.6" class="bkm"/><text x="655" y="479.5">Bulk</text>
<line x1="635" y1="487" x2="653" y2="487" class="tr"/><rect x="642.2" y="485.2" width="3.6" height="3.6" class="trm"/><text x="655" y="490.5">TRC</text>
</g>
<line x1="673.5" y1="470" x2="673.5" y2="492" stroke="#000" stroke-width="0.6"/>
<text transform="translate(681,478) rotate(-90)" font-size="7" text-anchor="middle">P&lt;0.0001</text>
</svg>
</body></html>
